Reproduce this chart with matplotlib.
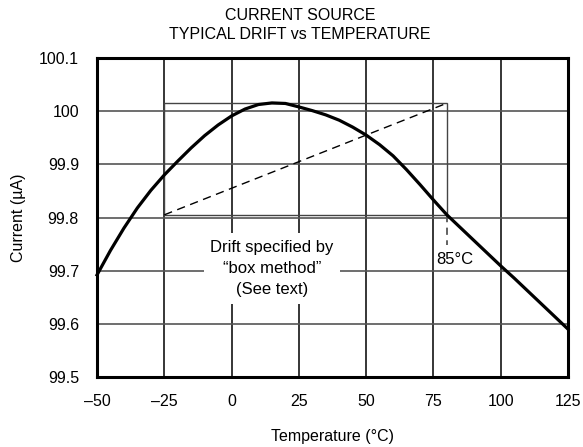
import matplotlib
matplotlib.use("Agg")
import matplotlib.pyplot as plt
from matplotlib.patches import Rectangle

plt.rcParams['font.family'] = ['Liberation Sans', 'DejaVu Sans']

# Data
temps = [-50, -45, -40, -35, -30, -25, -20, -15, -10, -5, 0, 5, 10, 15, 20, 25,
         30, 35, 40, 45, 50, 55, 60, 65, 70, 75, 80, 85, 90, 95, 100, 105, 110,
         115, 120, 125]
current = [99.692, 99.738, 99.780, 99.818, 99.851, 99.880, 99.906, 99.931,
           99.954, 99.974, 99.991, 100.004, 100.0125, 100.0155, 100.0145, 100.008,
           100.001, 99.993, 99.983, 99.970, 99.955, 99.937, 99.916, 99.890,
           99.862, 99.833, 99.805, 99.781, 99.757, 99.733, 99.709, 99.686,
           99.662, 99.638, 99.614, 99.590]

x_ticks = [-50, -25, 0, 25, 50, 75, 100, 125]
x_tick_labels = ['\u201350', '\u201325', '0', '25', '50', '75', '100', '125']
y_ticks = [99.5, 99.6, 99.7, 99.8, 99.9, 100.0, 100.1]
y_tick_labels = ['99.5', '99.6', '99.7', '99.8', '99.9', '100', '100.1']

box_left, box_right = -25, 80
box_low, box_high = 99.805, 100.015
marker_bottom = 99.748
label_85 = '85\u00b0C'
label_85_pos = (76, 99.721)
note_text = 'Drift specified by\n\u201cbox method\u201d\n(See text)'
note_pos = (15, 99.704)

fig = plt.figure(figsize=(5.83, 4.47), dpi=100)
ax = fig.add_axes([97/583, 70/447, 471/583, 319/447])

ax.set_xlim(-50, 125)
ax.set_ylim(99.5, 100.1)
ax.set_xticks(x_ticks)
ax.set_xticklabels(x_tick_labels)
ax.set_yticks(y_ticks)
ax.set_yticklabels(y_tick_labels)
ax.tick_params(length=0, labelsize=11.5)
ax.tick_params(axis='y', pad=13)
ax.tick_params(axis='x', pad=12)

for xt in x_ticks[1:-1]:
    ax.axvline(xt, color='black', lw=1.1, zorder=1)
for yt in y_ticks[1:-1]:
    ax.axhline(yt, color='#555555', lw=1.2, zorder=1)

for sp in ax.spines.values():
    sp.set_linewidth(2.2)

# box
ax.add_patch(Rectangle((box_left, box_low), box_right - box_left, box_high - box_low,
                       fill=False, edgecolor='#444444', lw=1.0, zorder=2))
ax.plot([box_left, box_right], [box_low, box_high], color='black', lw=1.0,
        dashes=(6, 4), zorder=3)
ax.plot([box_right, box_right], [box_low, marker_bottom], color='#555555', lw=1.3,
        dashes=(4, 3), zorder=3)

ax.plot(temps, current, color='black', lw=2.3, zorder=4, clip_on=False,
        solid_joinstyle='round')

ax.text(note_pos[0], note_pos[1], note_text, ha='center', va='center',
        fontsize=12, linespacing=1.5, zorder=5,
        bbox=dict(boxstyle='square,pad=0.4', fc='white', ec='none'))
ax.text(label_85_pos[0], label_85_pos[1], label_85, ha='left', va='center',
        fontsize=12, zorder=5)

ax.set_xlabel('Temperature (\u00b0C)', fontsize=11.5, labelpad=15)
ax.set_ylabel('Current (\u00b5A)', fontsize=11.5, labelpad=9)

fig.text(300/583, 1 - 25/447, 'CURRENT SOURCE\nTYPICAL DRIFT vs TEMPERATURE',
         ha='center', va='center', fontsize=11.5, linespacing=1.35)

fig.savefig('out.png', dpi=100)
